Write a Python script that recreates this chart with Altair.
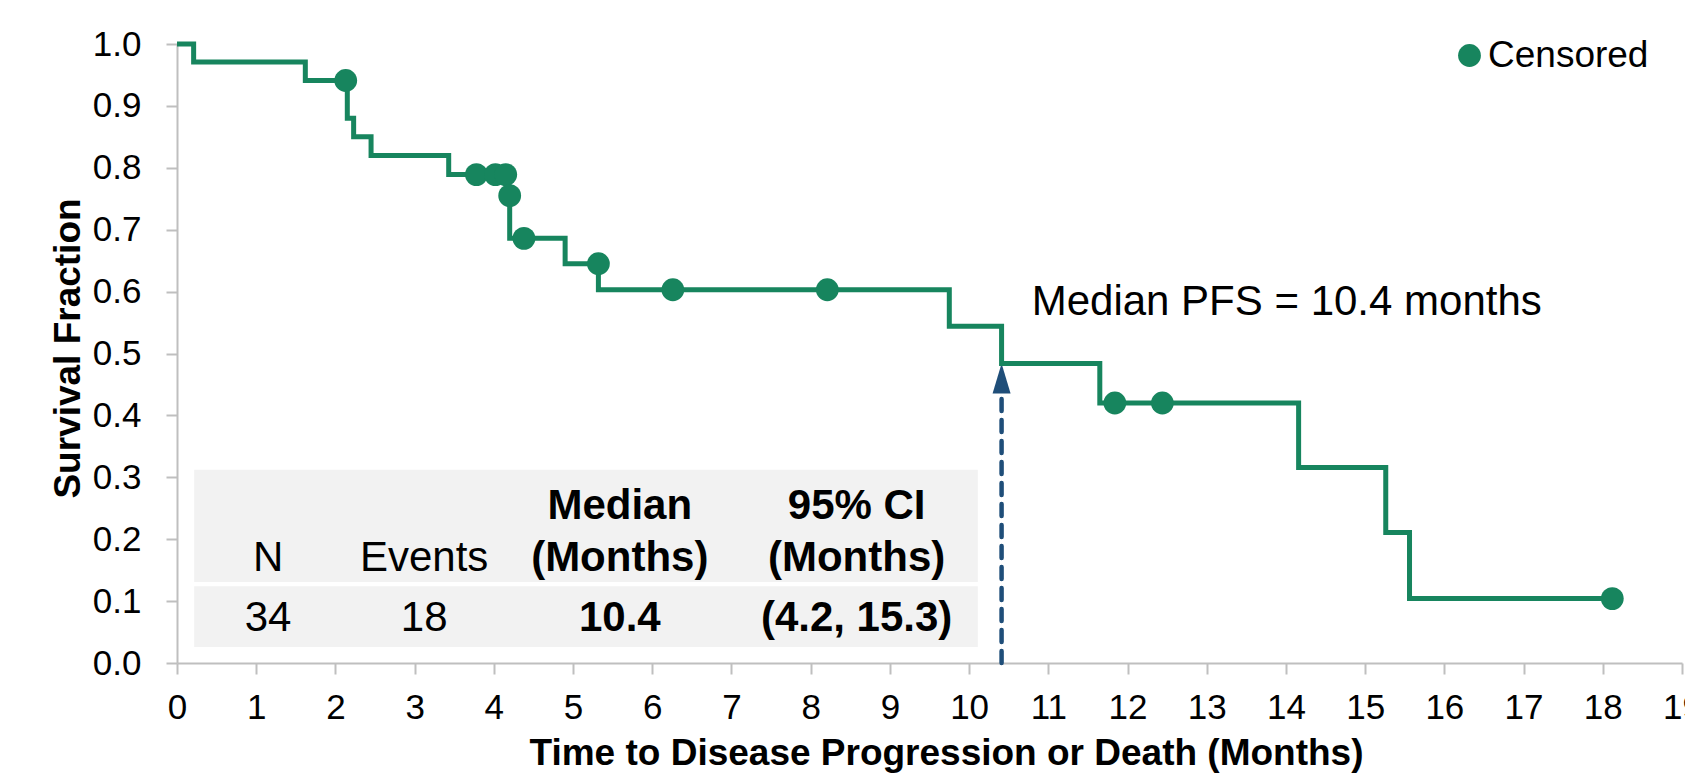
import altair as alt
import pandas as pd

FONT = "Liberation Sans, Arial, Helvetica, sans-serif"
GREEN = "#17855E"
BLUE = "#1F4E79"
GREY_AXIS = "#BFBFBF"
TABLE_BG = "#F2F2F2"

# Kaplan-Meier step curve (time in months, survival fraction)
step_time = [0, 0.21, 1.62, 2.15, 2.23, 2.45, 3.43, 4.19, 4.20, 4.90, 5.32,
             9.75, 10.41, 11.65, 14.16, 15.26, 15.56, 18.12]
step_surv = [1.0, 0.971, 0.941, 0.880, 0.850, 0.820, 0.789, 0.755, 0.686, 0.645, 0.603,
             0.544, 0.484, 0.420, 0.316, 0.211, 0.104, 0.104]

# Censored observations
cens_time = [2.13, 3.78, 4.02, 4.15, 4.20, 4.38, 5.32, 6.26, 8.21, 11.84, 12.44, 18.12]
cens_surv = [0.941, 0.789, 0.789, 0.789, 0.755, 0.686, 0.645, 0.603, 0.603, 0.420, 0.420, 0.104]

# Median marker
median_pfs = 10.41
median_surv = 0.484
median_label = "Median PFS = 10.4 months"

# Axis ticks
x_ticks = list(range(0, 20))
y_ticks = [i / 10 for i in range(11)]

# Summary table contents
table_header1 = ["", "", "Median", "95% CI"]
table_header2 = ["N", "Events", "(Months)", "(Months)"]
table_values = ["34", "18", "10.4", "(4.2, 15.3)"]
table_bold = [False, False, True, True]

# ---- layout constants (data coordinates for annotations) ----
table_col_x = [1.15, 3.12, 5.59, 8.58]
table_row_y = [0.232, 0.149, 0.051]
table_boxes = pd.DataFrame({"x": [0.217, 0.217], "x2": [10.11, 10.11],
                            "y": [0.131, 0.026], "y2": [0.312, 0.124]})

curve = pd.DataFrame({"t": step_time, "s": step_surv})
cens = pd.DataFrame({"t": cens_time, "s": cens_surv, "kind": ["Censored"] * len(cens_time)})

xscale = alt.Scale(domain=[0, 19], nice=False, zero=False)
yscale = alt.Scale(domain=[0, 1], nice=False)

x_axis = alt.Axis(values=x_ticks, title="Time to Disease Progression or Death (Months)",
                  labelFontSize=35, labelFont=FONT, labelColor="#000000",
                  labelBaseline="alphabetic", labelPadding=44, labelFlush=False,
                  labelOverlap=False,
                  titleFont=FONT, titleFontSize=37, titleFontWeight="bold", titleColor="#000000",
                  titleBaseline="alphabetic", titleY=101, titleX=769, titleAlign="center",
                  domainColor=GREY_AXIS, domainWidth=2, tickColor=GREY_AXIS, tickWidth=2,
                  tickSize=11, grid=False)
y_axis = alt.Axis(values=y_ticks, format=".1f", title="Survival Fraction",
                  labelFontSize=35, labelFont=FONT, labelColor="#000000", labelPadding=25,
                  labelOverlap=False,
                  titleFont=FONT, titleFontSize=37, titleFontWeight="bold", titleColor="#000000",
                  titleBaseline="alphabetic", titleAngle=-90, titleX=-98, titleY=304,
                  titleAnchor="middle",
                  domainColor=GREY_AXIS, domainWidth=2, tickColor=GREY_AXIS, tickWidth=2,
                  tickSize=11, grid=False)


def X(field):
    return alt.X(field, scale=xscale, axis=x_axis)


def Y(field):
    return alt.Y(field, scale=yscale, axis=y_axis)


boxes = alt.Chart(table_boxes).mark_rect(color=TABLE_BG).encode(
    x=X("x:Q"), x2="x2:Q", y=Y("y:Q"), y2="y2:Q",
)

rows = []
for i in range(4):
    for r, lst in enumerate([table_header1, table_header2, table_values]):
        if lst[i] == "":
            continue
        rows.append({"x": table_col_x[i], "y": table_row_y[r], "text": lst[i],
                     "bold": bool(table_bold[i])})
tbl = pd.DataFrame(rows)

tbl_normal = alt.Chart(tbl[~tbl["bold"]]).mark_text(
    font=FONT, fontSize=42, color="#000000", align="center", baseline="alphabetic"
).encode(x=X("x:Q"), y=Y("y:Q"), text="text:N")
tbl_bold = alt.Chart(tbl[tbl["bold"]]).mark_text(
    font=FONT, fontSize=42, fontWeight="bold", color="#000000", align="center",
    baseline="alphabetic"
).encode(x=X("x:Q"), y=Y("y:Q"), text="text:N")

line = alt.Chart(curve).mark_line(interpolate="step-after", color=GREEN, strokeWidth=5).encode(
    x=X("t:Q"), y=Y("s:Q"),
)

points = alt.Chart(cens).mark_point(filled=True, opacity=1, size=520, shape="circle").encode(
    x=X("t:Q"), y=Y("s:Q"),
    color=alt.Color("kind:N", scale=alt.Scale(domain=["Censored"], range=[GREEN]),
                    legend=alt.Legend(orient="none", legendX=1274, legendY=-7, title=None,
                                      labelFont=FONT, labelFontSize=37, labelColor="#000000",
                                      labelLimit=500,
                                      symbolSize=520, symbolType="circle",
                                      symbolStrokeWidth=0, labelOffset=0, padding=0)),
)

med = pd.DataFrame({"x": [median_pfs], "y0": [0.0], "y1": [0.437], "ya": [0.4596],
                    "label": [median_label], "lx": [10.79], "ly": [0.562]})

rule = alt.Chart(med).mark_rule(color=BLUE, strokeWidth=4.5, strokeDash=[12, 9],
                                strokeCap="round").encode(
    x=X("x:Q"), y=Y("y0:Q"), y2="y1:Q",
)
arrow = alt.Chart(med).mark_point(filled=True, opacity=1, color=BLUE, size=900,
                                  shape="M0,-1L0.6,1L-0.6,1Z").encode(
    x=X("x:Q"), y=Y("ya:Q"),
)
label = alt.Chart(med).mark_text(font=FONT, fontSize=42, color="#000000", align="left",
                                 baseline="alphabetic").encode(
    x=X("lx:Q"), y=Y("ly:Q"), text="label:N",
)

chart = alt.layer(boxes, tbl_normal, tbl_bold, rule, arrow, line, points, label).properties(
    width=1505, height=619,
    autosize=alt.AutoSizeParams(type="none"),
    padding={"left": 169, "top": 36, "right": 3, "bottom": 110},
    background="white",
).configure_view(stroke=None)

chart.save("out.html", embed_options={"renderer": "svg", "actions": False})
